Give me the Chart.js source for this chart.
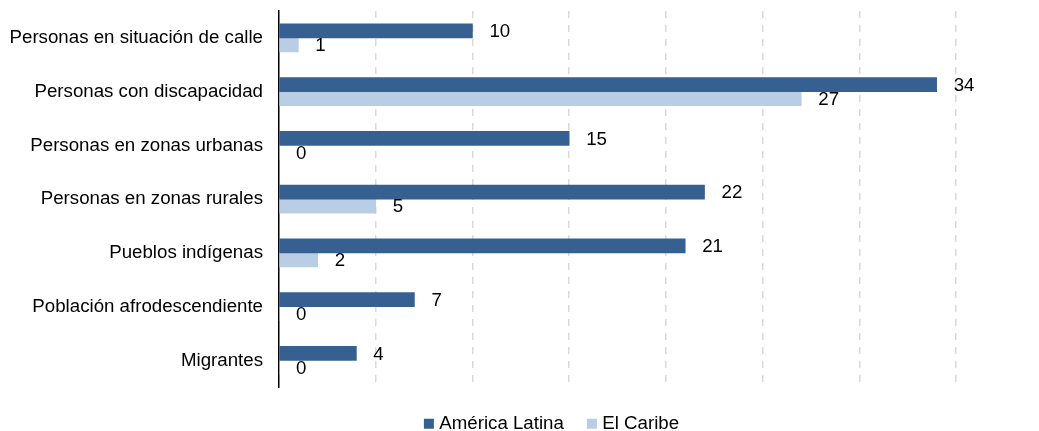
<!DOCTYPE html>
<html>
<head>
<meta charset="utf-8">
<script src="https://cdn.jsdelivr.net/npm/chart.js@4"></script>
<style>
  html, body { margin: 0; padding: 0; background: #fff; }
  #wrap { width: 1039px; height: 431px; }
</style>
</head>
<body>
<div id="wrap"><canvas id="chart"></canvas></div>
<script>
const categories = [
  'Personas en situación de calle',
  'Personas con discapacidad',
  'Personas en zonas urbanas',
  'Personas en zonas rurales',
  'Pueblos indígenas',
  'Población afrodescendiente',
  'Migrantes',
];
const americaLatina = [10, 34, 15, 22, 21, 7, 4];
const elCaribe = [1, 27, 0, 5, 2, 0, 0];

const FONT = '"Liberation Sans", Arial, sans-serif';
const SIZE = 18.7;

// writes each bar's value just past its end
const barValues = {
  id: 'barValues',
  afterDatasetsDraw(chart) {
    const ctx = chart.ctx;
    ctx.save();
    ctx.font = SIZE + 'px ' + FONT;
    ctx.fillStyle = '#000';
    ctx.textAlign = 'left';
    ctx.textBaseline = 'middle';
    chart.data.datasets.forEach((ds, i) => {
      chart.getDatasetMeta(i).data.forEach((bar, j) => {
        ctx.fillText(String(ds.data[j]), bar.x + 17, bar.y + 1);
      });
    });
    ctx.restore();
  },
};

// narrows the legend box from the left so the row sits further right
const legendShift = {
  id: 'legendShift',
  beforeDraw(chart) {
    if (chart.legend) chart.legend.left = 151;
  },
};

const config = {
  type: 'bar',
  data: {
    labels: categories,
    datasets: [
      {
        label: 'América Latina',
        data: americaLatina,
        backgroundColor: '#376092',
        barThickness: 14,
      },
      {
        label: 'El Caribe',
        data: elCaribe,
        backgroundColor: '#B9CDE5',
        barThickness: 14,
      },
    ],
  },
  options: {
    indexAxis: 'y',
    responsive: true,
    maintainAspectRatio: false,
    animation: false,
    layout: {
      padding: { top: 11, right: 83, left: 0, bottom: -12 },
    },
    scales: {
      x: {
        min: 0,
        max: 35,
        ticks: { display: false, stepSize: 5 },
        grid: {
          drawTicks: false,
          color: (c) => (c.tick && c.tick.value === 0 ? 'rgba(0,0,0,0)' : '#d9d9d9'),
          lineWidth: 1.5,
        },
        border: { display: false, dash: [7, 7] },
        afterFit: (scale) => {
          scale.height = 0;
        },
      },
      y: {
        grid: { display: false, drawTicks: false },
        border: { display: true, color: '#000', width: 1.5 },
        ticks: {
          color: '#000',
          padding: 16,
          font: { family: FONT, size: SIZE },
        },
        afterFit: (scale) => {
          scale.width = 279;
          scale.paddingTop = 0;
          scale.paddingBottom = 0;
        },
      },
    },
    plugins: {
      legend: {
        position: 'bottom',
        labels: {
          usePointStyle: true,
          pointStyle: 'rect',
          boxWidth: 2,
          boxHeight: 10,
          padding: 27,
          color: '#000',
          font: { family: FONT, size: SIZE },
        },
      },
      tooltip: { enabled: false },
    },
  },
  plugins: [barValues, legendShift],
};

new Chart(document.getElementById('chart'), config);
</script>
</body>
</html>
